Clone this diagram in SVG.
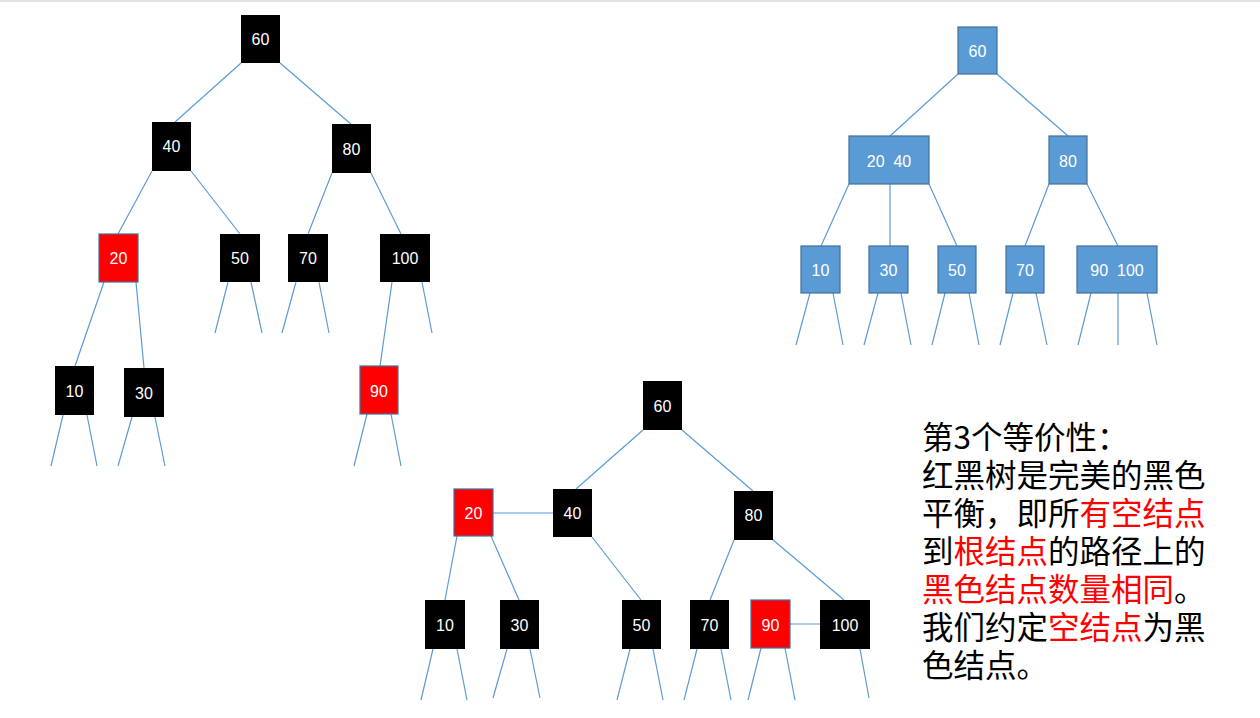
<svg xmlns="http://www.w3.org/2000/svg" width="1260" height="718" viewBox="0 0 1260 718">
<style>
.e{stroke:#5B9BD5;stroke-width:1.2;fill:none}
.b{fill:#000}
.r{fill:#FF0000;stroke:#41719C;stroke-width:1.2}
.u{fill:#5B9BD5;stroke:#41719C;stroke-width:1.2}
.t{font-family:"Liberation Sans","DejaVu Sans",sans-serif;font-size:16px;fill:#fff;text-anchor:middle}
.c{font-family:"Noto Sans CJK SC","Noto Sans",sans-serif;font-size:31.5px;fill:#000}
.red{fill:#FF0000}
</style>
<rect x="0" y="0" width="1260" height="718" fill="#fff"/>
<rect x="0" y="0" width="1260" height="2" fill="#E1E1E1"/>

<g id="connectors">
<!-- top-left tree -->
<path class="e" d="M241,63L175,122M280,63L352,125M152,171L118,234M191,171L240,234M332,173L308,234M371,173L401,234
M104,282L75,366M136,282L144,368M228,282L215,333M251,282L262,333M296,282L282,333M319,282L329,333
M392,282L380,366M422,282L432,333M63,415L51,466M87,415L97,466M132,417L118,466M155,417L165,466
M367,414L354,466M391,414L401,466"/>
<!-- top-right tree -->
<path class="e" d="M958,74L890,136M997,74L1068,136M849,184L821,246M890,184L890,246M929,184L957,246M1049,184L1025,246M1087,184L1118,246
M810,293L796,345M833,293L843,345M878,293L864,345M901,293L911,345M945,293L932,345M969,293L979,345
M1013,293L1000,345M1036,293L1047,345M1091,293L1078,345M1118,293L1118,345M1147,293L1157,345"/>
<!-- bottom tree -->
<path class="e" d="M643,430L576,489M682,430L753,491M493,513L553,513M457,536L445,600M491,536L519,600M592,537L641,600
M734,540L710,600M772,539L844,600M790,624L820,624
M433,649L421,700M457,649L467,700M507,649L493,698M530,649L540,698M630,649L617,700M653,649L663,700
M697,649L684,700M721,649L731,700M761,648L748,700M785,648L795,700M860,649L869,698"/>
</g>

<g id="tl-60"><rect class="b" x="241" y="15" width="39" height="48"/><text class="t" x="260.5" y="45">60</text></g>
<g id="tl-40"><rect class="b" x="152" y="122" width="39" height="49"/><text class="t" x="171.5" y="152">40</text></g>
<g id="tl-80"><rect class="b" x="332" y="124" width="39" height="49"/><text class="t" x="351.5" y="155">80</text></g>
<g id="tl-20"><rect class="r" x="99" y="234" width="39" height="48"/><text class="t" x="118.5" y="264">20</text></g>
<g id="tl-50"><rect class="b" x="220" y="234" width="40" height="48"/><text class="t" x="240" y="264">50</text></g>
<g id="tl-70"><rect class="b" x="288" y="234" width="40" height="48"/><text class="t" x="308" y="264">70</text></g>
<g id="tl-100"><rect class="b" x="380" y="234" width="50" height="48"/><text class="t" x="405" y="264">100</text></g>
<g id="tl-10"><rect class="b" x="55" y="366" width="39" height="49"/><text class="t" x="74.5" y="397">10</text></g>
<g id="tl-30"><rect class="b" x="124" y="368" width="40" height="49"/><text class="t" x="144" y="399">30</text></g>
<g id="tl-90"><rect class="r" x="360" y="366" width="38" height="48"/><text class="t" x="379" y="397">90</text></g>

<g id="tr-60"><rect class="u" x="958" y="27" width="39" height="47"/><text class="t" x="977.5" y="57">60</text></g>
<g id="tr-2040"><rect class="u" x="849" y="136" width="80" height="48"/><text class="t" x="889" y="167" xml:space="preserve">20  40</text></g>
<g id="tr-80"><rect class="u" x="1049" y="136" width="38" height="48"/><text class="t" x="1068" y="167">80</text></g>
<g id="tr-10"><rect class="u" x="801" y="246" width="39" height="47"/><text class="t" x="820.5" y="276">10</text></g>
<g id="tr-30"><rect class="u" x="869" y="246" width="39" height="47"/><text class="t" x="888.5" y="276">30</text></g>
<g id="tr-50"><rect class="u" x="938" y="246" width="38" height="47"/><text class="t" x="957" y="276">50</text></g>
<g id="tr-70"><rect class="u" x="1006" y="246" width="38" height="47"/><text class="t" x="1025" y="276">70</text></g>
<g id="tr-90100"><rect class="u" x="1077" y="246" width="80" height="47"/><text class="t" x="1117" y="276" xml:space="preserve">90  100</text></g>

<g id="bt-60"><rect class="b" x="643" y="381" width="39" height="49"/><text class="t" x="662.5" y="412">60</text></g>
<g id="bt-20"><rect class="r" x="454" y="489" width="39" height="47"/><text class="t" x="473.5" y="519">20</text></g>
<g id="bt-40"><rect class="b" x="553" y="489" width="39" height="48"/><text class="t" x="572.5" y="519">40</text></g>
<g id="bt-80"><rect class="b" x="734" y="491" width="39" height="49"/><text class="t" x="753.5" y="521">80</text></g>
<g id="bt-10"><rect class="b" x="425" y="600" width="40" height="49"/><text class="t" x="445" y="631">10</text></g>
<g id="bt-30"><rect class="b" x="500" y="600" width="39" height="49"/><text class="t" x="519.5" y="631">30</text></g>
<g id="bt-50"><rect class="b" x="622" y="600" width="39" height="49"/><text class="t" x="641.5" y="631">50</text></g>
<g id="bt-70"><rect class="b" x="690" y="600" width="39" height="49"/><text class="t" x="709.5" y="631">70</text></g>
<g id="bt-90"><rect class="r" x="751" y="600" width="39" height="48"/><text class="t" x="770.5" y="631">90</text></g>
<g id="bt-100"><rect class="b" x="820" y="600" width="50" height="49"/><text class="t" x="845" y="631">100</text></g>

<g id="note">
<text class="c" x="922" y="449">第3个等价性：</text>
<text class="c" x="922" y="487">红黑树是完美的黑色</text>
<text class="c" x="922" y="525">平衡，即所</text><text class="c red" x="1079.5" y="525">有空结点</text>
<text class="c" x="922" y="563">到</text><text class="c red" x="953.5" y="563">根结点</text><text class="c" x="1048" y="563">的路径上的</text>
<text class="c red" x="922" y="601">黑色结点数量相同</text><text class="c" x="1174" y="601">。</text>
<text class="c" x="922" y="639">我们约定</text><text class="c red" x="1048" y="639">空结点</text><text class="c" x="1142.5" y="639">为黑</text>
<text class="c" x="922" y="677">色结点。</text>
</g>
</svg>
